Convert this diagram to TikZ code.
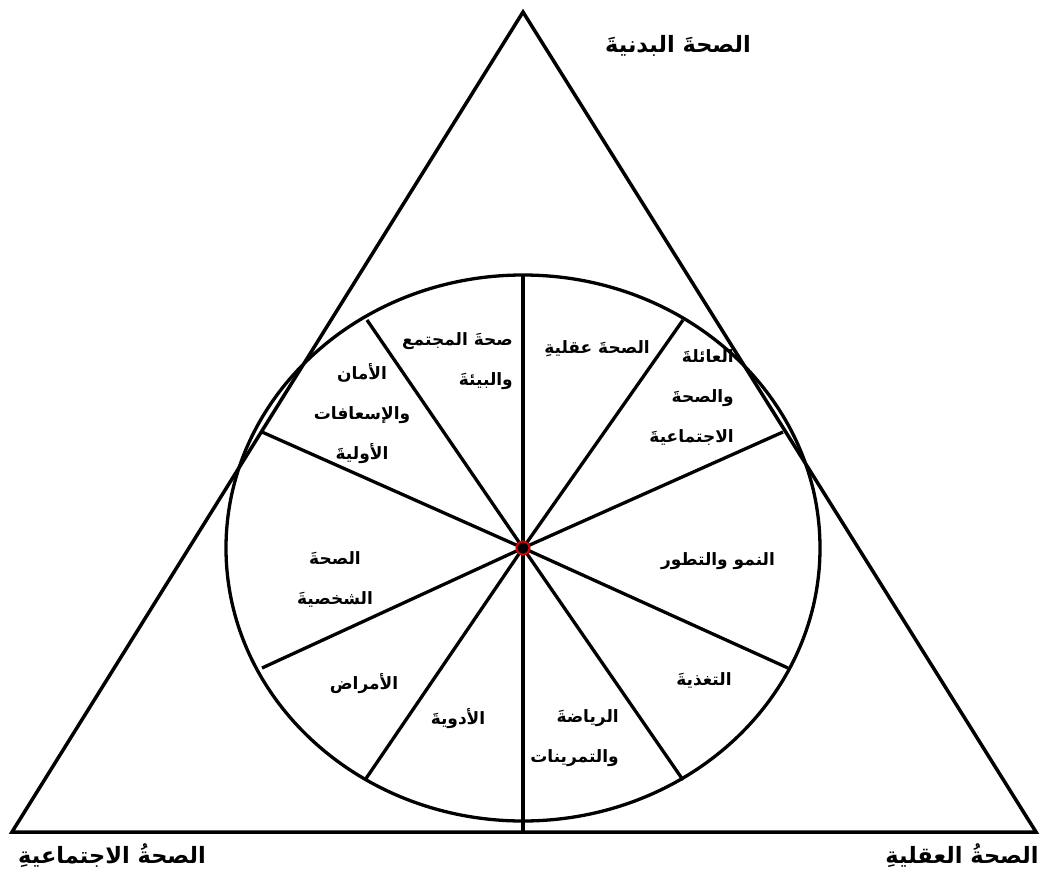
\documentclass[tikz,border=0pt]{standalone}
\usepackage{fontspec}
\newfontfamily\arabicfont[Script=Arabic]{DejaVu Sans}
\TeXXeTstate=1
\newcommand{\ar}[1]{\beginR #1\endR}
\begin{document}
\begin{tikzpicture}[x=1pt,y=-1pt,
  edge/.style={line width=3.5pt, line join=miter},
  spoke/.style={line width=3.3pt},
  outer/.style={font=\arabicfont\bfseries\fontsize{22.5}{26}\selectfont, inner sep=0pt},
  inner/.style={font=\arabicfont\bfseries\fontsize{17}{40}\selectfont, align=center, inner sep=0pt},
  innerR/.style={inner, align=right, anchor=east}]
\useasboundingbox (0,0) rectangle (1041,872);
% triangle
\coordinate (A) at (523,12);
\coordinate (L) at (12,832);
\coordinate (R) at (1036,832);
\draw[edge] (A) -- (R) -- (L) -- cycle;
% circle
\coordinate (O) at (523,548);
\draw[spoke] (O) ellipse [x radius=297, y radius=273];
% spoke ends
\coordinate (s0) at (523,276);
\coordinate (s1) at (683,320);
\coordinate (s2) at (783,432);
\coordinate (s3) at (788,668);
\coordinate (s4) at (683,780);
\coordinate (s5) at (523,832);
\coordinate (s6) at (365,780);
\coordinate (s7) at (262,668);
\coordinate (s8) at (262,432);
\coordinate (s9) at (367,320);
\foreach \i in {0,...,9} \draw[spoke] (O) -- (s\i);
\draw[red!85!black, line width=2pt, fill=black] (O) circle (6.5);
% outer labels
\node[outer] (top) at (678,46) {\ar{الصحةَ البدنيةَ}};
\node[outer] (bl) at (112,856) {\ar{الصحةُ الاجتماعيةِ}};
\node[outer] (br) at (962,856) {\ar{الصحةُ العقليةِ}};
% inner labels
\node[inner] (t1) at (597,349) {\ar{الصحةَ عقليةِ}};
\node[innerR] (t2) at (734,398) {\ar{العائلةَ}\\\ar{والصحةَ}\\\ar{الاجتماعيةَ}};
\node[inner] (t3) at (718,561) {\ar{النمو والتطور}};
\node[inner] (t4) at (704,680) {\ar{التغذيةَ}};
\node[innerR] (t5) at (619,738) {\ar{الرياضةَ}\\\ar{والتمرينات}};
\node[inner] (t6) at (458,719) {\ar{الأدويةَ}};
\node[inner] (t7) at (364,684) {\ar{الأمراض}};
\node[inner] (t8) at (335,579) {\ar{الصحةَ}\\\ar{الشخصيةَ}};
\node[inner] (t9) at (362,414) {\ar{الأمان}\\\ar{والإسعافات}\\\ar{الأوليةَ}};
\node[innerR] (t10) at (513,361) {\ar{صحةَ المجتمع}\\\ar{والبيئةَ}};
\end{tikzpicture}
\end{document}
